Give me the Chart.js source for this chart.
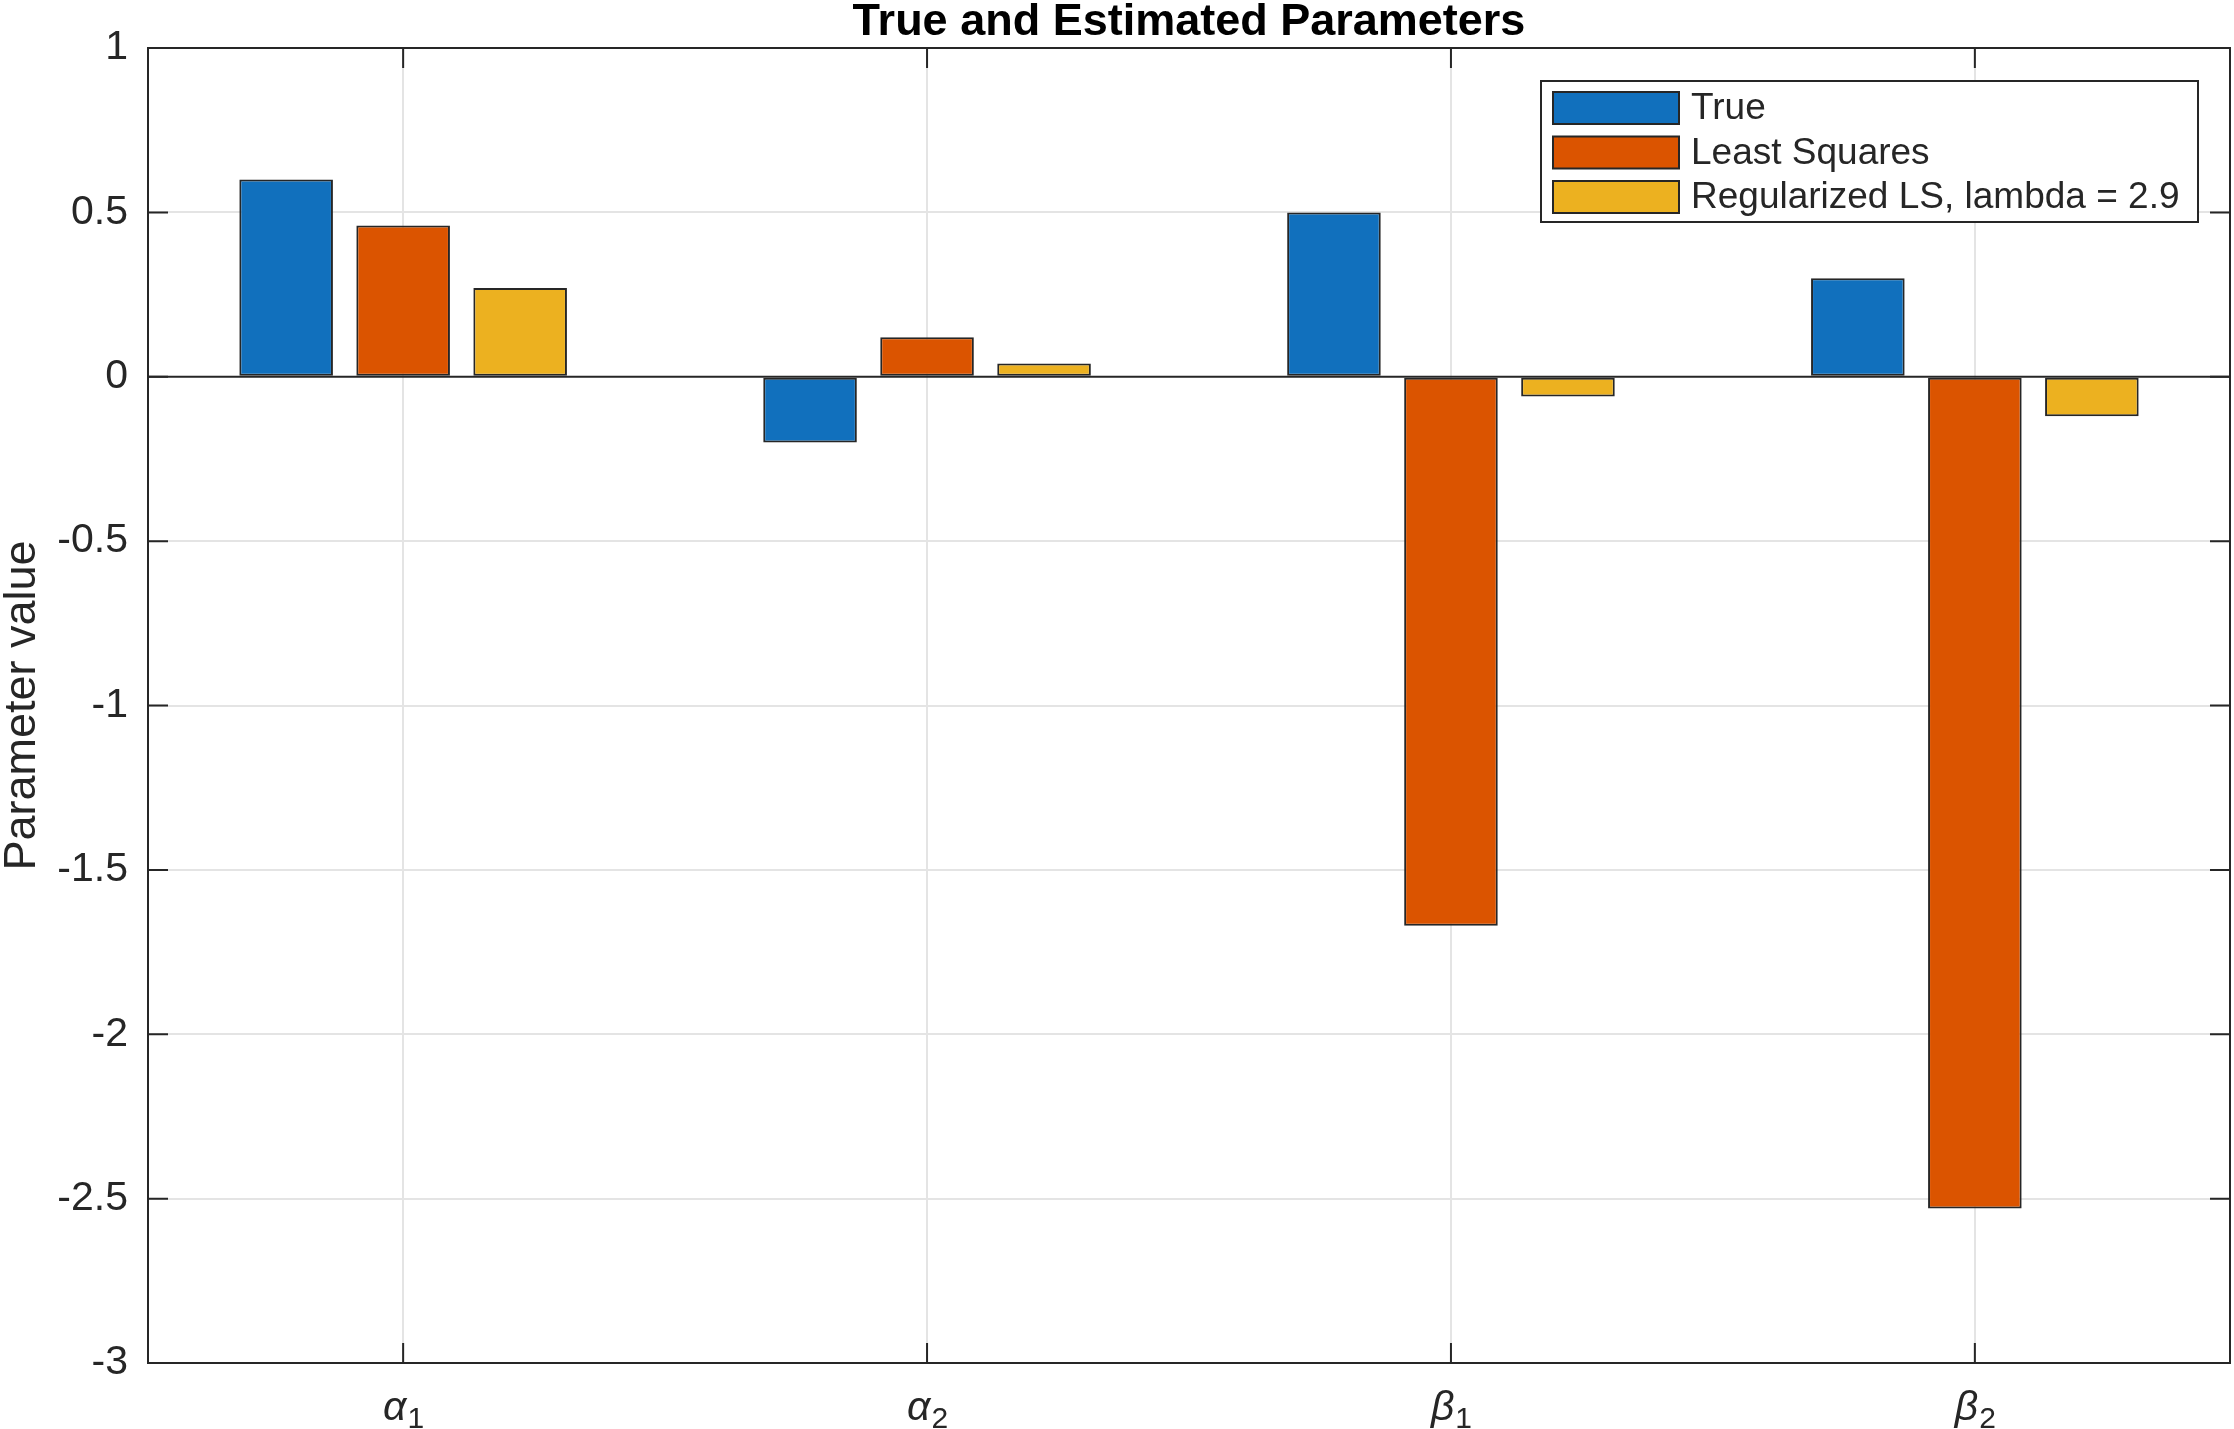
<!DOCTYPE html>
<html lang="en">
<head>
<meta charset="utf-8">
<title>True and Estimated Parameters</title>
<script src="https://cdn.jsdelivr.net/npm/chart.js@4.4.1/dist/chart.umd.min.js"></script>
<style>
  html, body { margin: 0; padding: 0; background: #fff; }
  #chart { display: block; }
</style>
</head>
<body>
<canvas id="chart" width="2234" height="1429"></canvas>
<script>
// parameter names: greek symbol + subscript index
var paramSymbol = ['α', 'α', 'β', 'β'];
var paramIndex  = ['1', '2', '1', '2'];
var categories  = [1, 2, 3, 4];

var trueValues = [0.60, -0.20, 0.50, 0.30];
var lsValues   = [0.46, 0.12, -1.67, -2.53];
var regValues  = [0.27, 0.04, -0.06, -0.12];

var seriesNames = ['True', 'Least Squares', 'Regularized LS, lambda = 2.9'];
var yTicks = [1, 0.5, 0, -0.5, -1, -1.5, -2, -2.5, -3];

var FONT = '"Liberation Sans", Arial, Helvetica, sans-serif';
var INK = '#262626';
var GRID = '#e4e4e4';

function pts(vals) {
  return vals.map(function(v, i) { return { x: categories[i], y: v }; });
}

// frame, inward ticks, baseline, x labels and the boxed legend (MATLAB look)
var matlabAxes = {
  id: 'matlabAxes',
  afterDatasetsDraw: function(chart) {
    var ctx = chart.ctx, a = chart.chartArea, ys = chart.scales.y, xs = chart.scales.x;
    ctx.save();
    ctx.strokeStyle = INK;
    ctx.lineWidth = 2;
    // bar baseline
    var y0 = ys.getPixelForValue(0);
    ctx.beginPath(); ctx.moveTo(a.left, y0); ctx.lineTo(a.right, y0); ctx.stroke();
    // box
    ctx.strokeRect(a.left, a.top, a.right - a.left, a.bottom - a.top);
    // inward ticks
    var tl = 20;
    ctx.beginPath();
    yTicks.forEach(function(v) {
      var p = ys.getPixelForValue(v);
      ctx.moveTo(a.left, p); ctx.lineTo(a.left + tl, p);
      ctx.moveTo(a.right, p); ctx.lineTo(a.right - tl, p);
    });
    categories.forEach(function(c) {
      var p = xs.getPixelForValue(c);
      ctx.moveTo(p, a.bottom); ctx.lineTo(p, a.bottom - tl);
      ctx.moveTo(p, a.top); ctx.lineTo(p, a.top + tl);
    });
    ctx.stroke();

    // x labels with subscripts
    ctx.fillStyle = INK;
    ctx.textBaseline = 'alphabetic';
    ctx.textAlign = 'left';
    categories.forEach(function(c, i) {
      var p = xs.getPixelForValue(c);
      ctx.font = 'italic 41px ' + FONT;
      var w1 = ctx.measureText(paramSymbol[i]).width;
      ctx.font = '30px ' + FONT;
      var w2 = ctx.measureText(paramIndex[i]).width;
      var x0 = p - (w1 + w2) / 2;
      ctx.font = 'italic 41px ' + FONT;
      ctx.fillText(paramSymbol[i], x0, 1420);
      ctx.font = '30px ' + FONT;
      ctx.fillText(paramIndex[i], x0 + w1 + 1, 1428);
    });

    // legend
    var bx = a.right - 32 - 657, by = a.top + 33, bw = 657, bh = 141;
    ctx.fillStyle = '#fff';
    ctx.fillRect(bx, by, bw, bh);
    ctx.lineWidth = 2;
    ctx.strokeStyle = INK;
    ctx.strokeRect(bx, by, bw, bh);
    ctx.font = '37px ' + FONT;
    ctx.textBaseline = 'middle';
    chart.data.datasets.forEach(function(ds, i) {
      var cy = by + 27 + i * 44.5;
      ctx.fillStyle = ds.backgroundColor;
      ctx.fillRect(bx + 12, cy - 16, 126, 32);
      ctx.strokeStyle = INK;
      ctx.strokeRect(bx + 12, cy - 16, 126, 32);
      ctx.fillStyle = INK;
      ctx.fillText(ds.label, bx + 150, cy + 1);
    });
    ctx.restore();
  }
};

var barStyle = { borderColor: INK, borderWidth: 2, borderSkipped: false };

new Chart(document.getElementById('chart').getContext('2d'), {
  type: 'bar',
  data: {
    datasets: [
      Object.assign({ label: seriesNames[0], data: pts(trueValues), backgroundColor: '#1170bd' }, barStyle),
      Object.assign({ label: seriesNames[1], data: pts(lsValues),   backgroundColor: '#db5400' }, barStyle),
      Object.assign({ label: seriesNames[2], data: pts(regValues),  backgroundColor: '#ecb120' }, barStyle)
    ]
  },
  options: {
    responsive: false,
    animation: false,
    devicePixelRatio: 1,
    categoryPercentage: 0.67,
    barPercentage: 0.80,
    layout: { padding: { left: 0, right: 4, top: 0, bottom: 0 } },
    plugins: {
      legend: { display: false },
      tooltip: { enabled: false },
      title: {
        display: true,
        fullSize: false,
        text: 'True and Estimated Parameters',
        color: '#000',
        font: { family: FONT, size: 45, weight: 'bold', lineHeight: 1 },
        padding: { top: 0, bottom: 3 }
      }
    },
    scales: {
      x: {
        type: 'linear',
        min: 0.513,
        max: 4.487,
        offset: false,
        afterBuildTicks: function(s) { s.ticks = categories.map(function(v) { return { value: v }; }); },
        grid: { color: GRID, lineWidth: 2, offset: false, drawTicks: false },
        border: { display: false },
        ticks: { display: false },
        afterFit: function(s) { s.height = 66; }
      },
      y: {
        min: -3,
        max: 1,
        afterBuildTicks: function(s) { s.ticks = yTicks.map(function(v) { return { value: v }; }); },
        grid: {
          drawTicks: false,
          lineWidth: 2,
          color: function(c) { return c.tick && c.tick.value === 0 ? 'rgba(0,0,0,0)' : GRID; }
        },
        border: { display: false },
        ticks: {
          color: INK,
          padding: 20,
          font: { family: FONT, size: 41 },
          callback: function(v) { return String(v); }
        },
        title: {
          display: true,
          text: 'Parameter value',
          color: INK,
          font: { family: FONT, size: 45, lineHeight: 1 },
          padding: { top: 0, bottom: 0 }
        },
        afterFit: function(s) { s.width = 148; }
      }
    }
  },
  plugins: [matlabAxes]
});
</script>
</body>
</html>
